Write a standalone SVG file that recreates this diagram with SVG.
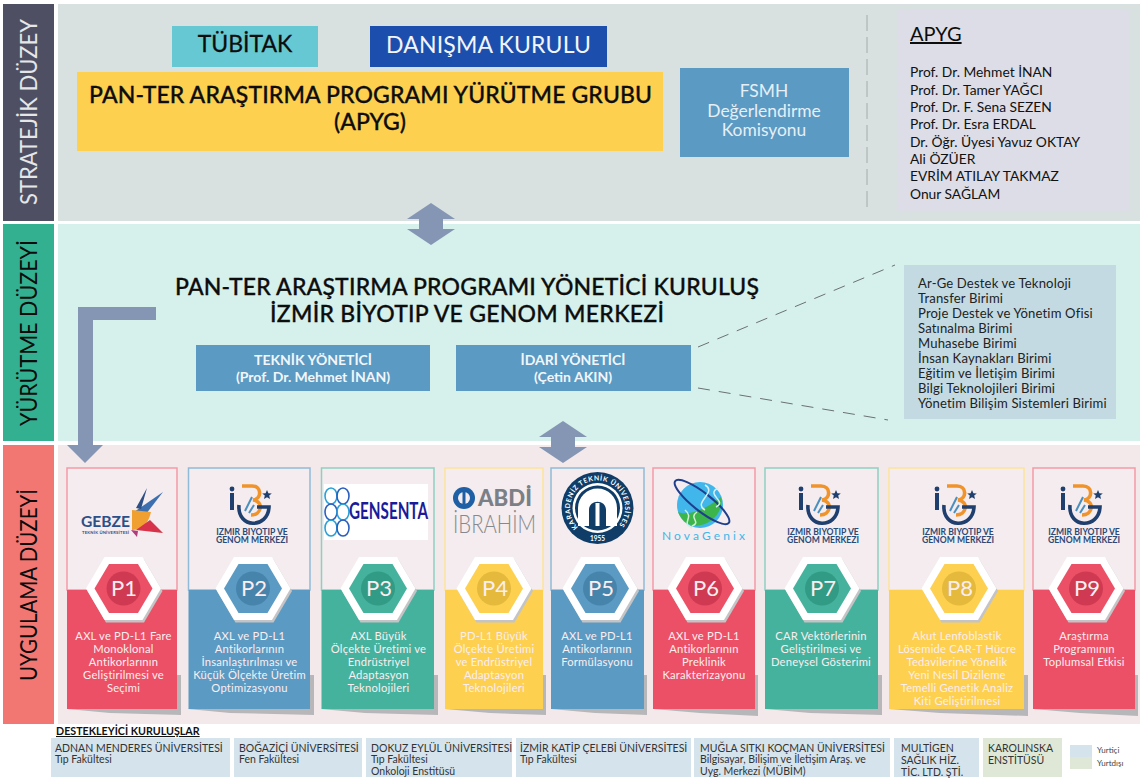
<svg xmlns="http://www.w3.org/2000/svg" width="1144" height="781" viewBox="0 0 1144 781">
<style>
text{font-family:Lato,"Liberation Sans",sans-serif}
.mid{text-anchor:middle}
.ttl{font-size:23px;font-weight:500;fill:#0d0d0d;stroke:#0d0d0d;stroke-width:.3px}
.lvl{font-size:24px;text-anchor:middle}
.lbl{font-size:11.2px;fill:#fbeef0;text-anchor:middle;letter-spacing:.22px}
.pn{font-size:22px;fill:#fbeef0;text-anchor:middle}
.mgr{font-size:14px;font-weight:700;fill:#f2f6fa;text-anchor:middle}
.nm{font-size:13.8px;fill:#111}
.un{font-size:13.100px;fill:#222;letter-spacing:.15px}
.sup{font-size:10.5px;fill:#333}
.red{fill:#ec5066}.blu{fill:#5b9ac3}.grn{fill:#45b29d}.yel{fill:#fdd050}
.redd{fill:#cf3a52}.blud{fill:#4684ac}.grnd{fill:#329b85}.yeld{fill:#e4b93c}
.fr{fill:#f4ecee;stroke-width:1.5}
.arrow{fill:#8496b4}
.dash{stroke:#6a7272;stroke-width:1;fill:none;stroke-dasharray:12 9}
.shd{fill:#b7b7b9}
.lg{font-size:8.6px;font-weight:700;fill:#2a4a78;text-anchor:middle}
</style>
<defs>
<polygon id="hexO" points="-37.5,0 -19,-31.5 19,-31.5 37.5,0 19,31.5 -19,31.5"/>
<polygon id="hexI" points="-29,0 -14.5,-24.5 14.5,-24.5 29,0 14.5,24.5 -14.5,24.5"/>
<g id="hex">
<use href="#hexO" x="1.5" y="2.5" fill="#c4c4c6"/>
<use href="#hexO" fill="#fff"/>
</g>
<g id="ibg">
<circle cx="-20" cy="4" r="2.4" fill="#1f3f6e"/>
<rect x="-22" y="8" width="4" height="17" fill="#1f3f6e"/>
<path d="M-10 1H0C10 1 10 14 1 15C12 16 10 30 -1 30" fill="none" stroke="#f0932b" stroke-width="3.6"/>
<path d="M-13 20C-15 44 16 44 17 22H5" fill="none" stroke="#1f3f6e" stroke-width="3.6"/>
<path d="M-7 26L0 12M-3 28L2 20" stroke="#4b8fbf" stroke-width="2" fill="none"/>
<polygon points="15,5 16.4,8.200 19.800,8.400 17.200,10.600 18,14 15,12.200 12,14 12.800,10.600 10.200,8.400 13.600,8.200" fill="#1f3f6e"/>
</g>
<path id="ktuArc" d="M-21 17.700A27.500 27.500 0 1 1 21 17.700" fill="none"/>
</defs>

<g id="bands">
<rect x="58" y="4" width="1082" height="217" fill="#d8e1e0"/>
<rect x="58" y="224" width="1082" height="217" fill="#d6f0ec"/>
<rect x="58" y="445" width="1082" height="279" fill="#f4e9ea"/>
</g>
<g id="level-stratejik"><rect x="3" y="4" width="51" height="217" fill="#4f4f63"/><text class="lvl" x="37" y="112" transform="rotate(-90 37 112)" fill="#e4e6e8" textLength="186" lengthAdjust="spacingAndGlyphs">STRATEJİK DÜZEY</text></g>
<g id="level-yurutme"><rect x="3" y="224" width="51" height="217" fill="#33b08f"/><text class="lvl" x="37" y="333" transform="rotate(-90 37 333)" fill="#0c0c0c" textLength="186" lengthAdjust="spacingAndGlyphs">YÜRÜTME DÜZEYİ</text></g>
<g id="level-uygulama"><rect x="3" y="445" width="51" height="279" fill="#f27772"/><text class="lvl" x="37" y="585" transform="rotate(-90 37 585)" fill="#0c0c0c" textLength="192" lengthAdjust="spacingAndGlyphs">UYGULAMA DÜZEYİ</text></g>

<g id="tubitak"><rect x="172" y="26" width="146" height="41" fill="#66c8d2"/><text class="mid" x="245" y="52" font-size="23" fill="#0d0d0d" stroke="#0d0d0d" stroke-width=".3">TÜBİTAK</text></g>
<g id="danisma"><rect x="370" y="26" width="237" height="41" fill="#1c4fad"/><text x="386" y="53" font-size="23" fill="#f2f5fb" textLength="205">DANIŞMA KURULU</text></g>
<g id="apyg-grup"><rect x="77" y="72" width="586" height="79" fill="#fdd050"/>
<text class="ttl" x="89" y="103" textLength="563">PAN-TER ARAŞTIRMA PROGRAMI YÜRÜTME GRUBU</text>
<text class="ttl mid" x="370" y="130">(APYG)</text></g>
<g id="fsmh"><rect x="680" y="68" width="169" height="89" fill="#5b9ac3"/>
<text class="mid" font-size="17.4" fill="#e6eff6"><tspan x="764" y="97">FSMH</tspan><tspan x="764" y="117">Değerlendirme</tspan><tspan x="764" y="136">Komisyonu</tspan></text></g>
<g id="apyg-liste"><rect x="897" y="10" width="233" height="202" rx="3" fill="#dcdde6"/>
<text x="910" y="41" font-size="20" fill="#0d0d0d" text-decoration="underline">APYG</text>
<text class="nm"><tspan x="910" y="77">Prof. Dr. Mehmet İNAN</tspan><tspan x="910" y="94.5">Prof. Dr. Tamer YAĞCI</tspan><tspan x="910" y="112">Prof. Dr. F. Sena SEZEN</tspan><tspan x="910" y="129">Prof. Dr. Esra ERDAL</tspan><tspan x="910" y="146.5">Dr. Öğr. Üyesi Yavuz OKTAY</tspan><tspan x="910" y="164">Ali ÖZÜER</tspan><tspan x="910" y="181">EVRİM ATILAY TAKMAZ</tspan><tspan x="910" y="199">Onur SAĞLAM</tspan></text></g>

<g id="yonetici-kurulus"><text class="ttl" x="175" y="295" textLength="584">PAN-TER ARAŞTIRMA PROGRAMI YÖNETİCİ KURULUŞ</text>
<text class="ttl" x="270" y="322" textLength="394">İZMİR BİYOTIP VE GENOM MERKEZİ</text></g>
<g id="teknik"><rect x="196" y="345" width="234" height="46" fill="#5b9ac3"/><text class="mgr"><tspan x="313" y="365">TEKNİK YÖNETİCİ</tspan><tspan x="313" y="382">(Prof. Dr. Mehmet İNAN)</tspan></text></g>
<g id="idari"><rect x="456" y="345" width="235" height="46" fill="#5b9ac3"/><text class="mgr"><tspan x="573" y="365">İDARİ YÖNETİCİ</tspan><tspan x="573" y="382">(Çetin AKIN)</tspan></text></g>
<g id="birimler"><rect x="904" y="265" width="212" height="154" fill="#c3dae2"/>
<text class="un"><tspan x="918" y="288">Ar-Ge Destek ve Teknoloji</tspan><tspan x="918" y="303">Transfer Birimi</tspan><tspan x="918" y="318">Proje Destek ve Yönetim Ofisi</tspan><tspan x="918" y="333">Satınalma Birimi</tspan><tspan x="918" y="348">Muhasebe Birimi</tspan><tspan x="918" y="363">İnsan Kaynakları Birimi</tspan><tspan x="918" y="378">Eğitim ve İletişim Birimi</tspan><tspan x="918" y="393">Bilgi Teknolojileri Birimi</tspan><tspan x="918" y="408">Yönetim Bilişim Sistemleri Birimi</tspan></text></g>

<g id="card-p1">
<polygon class="shd" points="177,675 181,675 181,715 110,713 67,709"/>
<rect class="fr" x="67" y="468" width="110" height="122" stroke="#f59aa6"/><rect class="red" x="67" y="590" width="110" height="119"/>
<g id="logo-gebze">
<polygon points="134,512 163,492 146,514" fill="#3c6fb0"/><polygon points="136,508 147,488 141,509" fill="#2b4f86"/>
<path d="M132 510L151 512C148 526 140 530 132 530Z" fill="#f0a030"/>
<polygon points="136,530 150,520 163,533" fill="#d8324a"/>
<polygon points="131,530 138,531 137,537" fill="#b13a7a"/>
<text x="81" y="527" font-size="15.5" font-weight="700" fill="#2b4f86" textLength="49" lengthAdjust="spacingAndGlyphs">GEBZE</text>
<text x="82" y="534" font-size="4.2" font-weight="700" fill="#2b4f86" textLength="47">TEKNİK ÜNİVERSİTESİ</text></g>
<use href="#hex" x="123.5" y="588.5"/><use href="#hexI" x="123.5" y="588.5" class="red"/><circle class="redd" cx="123.5" cy="588.5" r="17"/><text class="pn" x="124" y="596">P1</text>
<text class="lbl"><tspan x="123.5" y="640">AXL ve PD-L1 Fare</tspan><tspan x="123.5" y="653">Monoklonal</tspan><tspan x="123.5" y="666">Antikorlarının</tspan><tspan x="123.5" y="679">Geliştirilmesi ve</tspan><tspan x="123.5" y="692">Seçimi</tspan></text></g>

<g id="card-p2">
<polygon class="shd" points="310,675 314,675 314,715 230,713 188,709"/>
<rect class="fr" x="188.500" y="468" width="121.500" height="122" stroke="#8fbbd8"/><rect class="blu" x="188.500" y="590" width="121.500" height="119"/>
<use href="#ibg" x="252" y="485"/>
<text class="lg"><tspan x="252" y="535">IZMIR BIYOTIP VE</tspan><tspan x="252" y="543">GENOM MERKEZI</tspan></text>
<use href="#hex" x="253" y="588.5"/><use href="#hexI" x="253" y="588.5" class="blu"/><circle class="blud" cx="253" cy="588.5" r="17"/><text class="pn" x="254" y="596">P2</text>
<text class="lbl"><tspan x="249.500" y="640">AXL ve PD-L1</tspan><tspan x="249.500" y="653">Antikorlarının</tspan><tspan x="249.500" y="666">İnsanlaştırılması ve</tspan><tspan x="249.500" y="679">Küçük Ölçekte Üretim</tspan><tspan x="249.500" y="692">Optimizasyonu</tspan></text></g>

<g id="card-p3">
<polygon class="shd" points="434,675 438,675 438,715 365,713 321,709"/>
<rect class="fr" x="321.500" y="468" width="112.500" height="122" stroke="#8dd0c2"/><rect class="grn" x="321.500" y="590" width="112.500" height="119"/>
<g id="logo-gensenta"><rect x="324" y="484" width="104" height="56" fill="#fff"/>
<g fill="none" stroke-width="1.600"><ellipse cx="331" cy="496" rx="6" ry="8" stroke="#2aa0d8"/><ellipse cx="343" cy="496" rx="6" ry="8" stroke="#2a5fc0"/><ellipse cx="331" cy="512" rx="6" ry="8" stroke="#2a5fc0"/><ellipse cx="343" cy="512" rx="6" ry="8" stroke="#2aa0d8"/><ellipse cx="331" cy="528" rx="6" ry="8" stroke="#2aa0d8"/><ellipse cx="343" cy="528" rx="6" ry="8" stroke="#2a5fc0"/></g>
<text x="349" y="519" font-size="23" font-weight="700" fill="#1b1b9a" textLength="79" lengthAdjust="spacingAndGlyphs">GENSENTA</text></g>
<use href="#hex" x="378" y="588.5"/><use href="#hexI" x="378" y="588.5" class="grn"/><circle class="grnd" cx="378" cy="588.5" r="17"/><text class="pn" x="379" y="596">P3</text>
<text class="lbl"><tspan x="378.500" y="640">AXL Büyük</tspan><tspan x="378.500" y="653">Ölçekte Üretimi ve</tspan><tspan x="378.500" y="666">Endrüstriyel</tspan><tspan x="378.500" y="679">Adaptasyon</tspan><tspan x="378.500" y="692">Teknolojileri</tspan></text></g>

<g id="card-p4">
<polygon class="shd" points="543,675 546,675 546,715 490,713 445,709"/>
<rect class="fr" x="445" y="468" width="98" height="122" stroke="#fde49a"/><rect class="yel" x="445" y="590" width="98" height="119"/>
<g id="logo-abdi"><circle cx="464" cy="498" r="11" fill="#1f5fa5"/><circle cx="464" cy="498" r="6" fill="#f4ecee"/><rect x="462.500" y="491" width="3" height="14" fill="#1f5fa5"/>
<text x="478" y="506" font-size="22" font-weight="900" fill="#7b7f86" textLength="54" lengthAdjust="spacingAndGlyphs">ABDİ</text>
<text x="453" y="533" font-size="25" font-weight="300" fill="#85888d" textLength="83" lengthAdjust="spacingAndGlyphs">İBRAHİM</text></g>
<use href="#hex" x="494" y="588.5"/><use href="#hexI" x="494" y="588.5" class="yel"/><circle class="yeld" cx="494" cy="588.5" r="17"/><text class="pn" x="495" y="596">P4</text>
<text class="lbl"><tspan x="494" y="640">PD-L1 Büyük</tspan><tspan x="494" y="653">Ölçekte Üretimi</tspan><tspan x="494" y="666">ve Endrüstriyel</tspan><tspan x="494" y="679">Adaptasyon</tspan><tspan x="494" y="692">Teknolojileri</tspan></text></g>

<g id="card-p5">
<polygon class="shd" points="644,675 647,675 647,715 595,713 551,709"/>
<rect class="fr" x="551" y="468" width="93" height="122" stroke="#8fbbd8"/><rect class="blu" x="551" y="590" width="93" height="119"/>
<g id="logo-ktu" transform="translate(597.500 508)"><circle r="36" fill="#0f3d68"/><circle r="25" fill="#fff"/><circle r="22.500" fill="#0f3d68"/>
<path d="M-19.500 18V0A19.500 19.500 0 0 1 19.500 0V18H8.500V2C8.500-9-8.500-9-8.500 2V18Z" fill="#fff"/><rect x="-2" y="-5" width="4" height="23" fill="#fff"/>
<text font-size="6.800" font-weight="700" fill="#fff"><textPath href="#ktuArc" startOffset="50%" text-anchor="middle" letter-spacing=".6">KARADENİZ TEKNİK ÜNİVERSİTESİ</textPath></text>
<text class="mid" x="0" y="33" font-size="6.500" font-weight="700" fill="#fff">1955</text></g>
<use href="#hex" x="600" y="588.5"/><use href="#hexI" x="600" y="588.5" class="blu"/><circle class="blud" cx="600" cy="588.5" r="17"/><text class="pn" x="601" y="596">P5</text>
<text class="lbl"><tspan x="597" y="640">AXL ve PD-L1</tspan><tspan x="597" y="653">Antikorlarının</tspan><tspan x="597" y="666">Formülasyonu</tspan></text></g>

<g id="card-p6">
<polygon class="shd" points="755,675 758,675 758,716 700,713 653,709"/>
<rect class="fr" x="653" y="468" width="102" height="122" stroke="#f59aa6"/><rect class="red" x="653" y="590" width="102" height="119"/>
<g id="logo-nova"><circle cx="700" cy="505" r="23" fill="#41b6ea"/><path d="M678 512C688 516 705 510 721 497C726 520 690 540 678 512Z" fill="#3cb54a"/>
<ellipse cx="702" cy="502" rx="34" ry="9" transform="rotate(38 702 502)" fill="none" stroke="#1f3f8e" stroke-width="2"/>
<path d="M705 485C718 492 692 503 705 510M718 488C705 495 728 501 716 507" stroke="#d8eef6" stroke-width="1.500" fill="none"/>
<path d="M685 510C695 518 680 523 692 528M697 512C688 518 702 522 692 526" stroke="#d6f0d8" stroke-width="1.500" fill="none"/>
<text x="662" y="540" font-size="12" fill="#3fb6ea" textLength="83" lengthAdjust="spacing">NovaGenix</text></g>
<use href="#hex" x="705" y="588.5"/><use href="#hexI" x="705" y="588.5" class="red"/><circle class="redd" cx="705" cy="588.5" r="17"/><text class="pn" x="706" y="596">P6</text>
<text class="lbl"><tspan x="704" y="640">AXL ve PD-L1</tspan><tspan x="704" y="653">Antikorlarının</tspan><tspan x="704" y="666">Preklinik</tspan><tspan x="704" y="679">Karakterizayonu</tspan></text></g>

<g id="card-p7">
<polygon class="shd" points="878,675 882,675 882,715 810,713 765,709"/>
<rect class="fr" x="765" y="468" width="113" height="122" stroke="#8dd0c2"/><rect class="grn" x="765" y="590" width="113" height="119"/>
<use href="#ibg" x="821" y="485"/>
<text class="lg"><tspan x="823" y="535">IZMIR BIYOTIP VE</tspan><tspan x="823" y="543">GENOM MERKEZI</tspan></text>
<use href="#hex" x="822" y="588.5"/><use href="#hexI" x="822" y="588.5" class="grn"/><circle class="grnd" cx="822" cy="588.5" r="17"/><text class="pn" x="823" y="596">P7</text>
<text class="lbl"><tspan x="821" y="640">CAR Vektörlerinin</tspan><tspan x="821" y="653">Geliştirilmesi ve</tspan><tspan x="821" y="666">Deneysel Gösterimi</tspan></text></g>

<g id="card-p8">
<polygon class="shd" points="1024,675 1028,675 1028,716 940,713 889,709"/>
<rect class="fr" x="889" y="468" width="135" height="122" stroke="#fde49a"/><rect class="yel" x="889" y="590" width="135" height="119"/>
<use href="#ibg" x="957" y="485"/>
<text class="lg"><tspan x="958" y="535">IZMIR BIYOTIP VE</tspan><tspan x="958" y="543">GENOM MERKEZI</tspan></text>
<use href="#hex" x="959" y="588.5"/><use href="#hexI" x="959" y="588.5" class="yel"/><circle class="yeld" cx="959" cy="588.5" r="17"/><text class="pn" x="960" y="596">P8</text>
<text class="lbl"><tspan x="957" y="640">Akut Lenfoblastik</tspan><tspan x="957" y="653">Lösemide CAR-T Hücre</tspan><tspan x="957" y="666">Tedavilerine Yönelik</tspan><tspan x="957" y="679">Yeni Nesil Dizileme</tspan><tspan x="957" y="692">Temelli Genetik Analiz</tspan><tspan x="957" y="705">Kiti Geliştirilmesi</tspan></text></g>

<g id="card-p9">
<polygon class="shd" points="1135,675 1138,675 1138,716 1080,713 1033,709"/>
<rect class="fr" x="1033" y="468" width="102" height="122" stroke="#f59aa6"/><rect class="red" x="1033" y="590" width="102" height="119"/>
<use href="#ibg" x="1083" y="485"/>
<text class="lg"><tspan x="1084" y="535">IZMIR BIYOTIP VE</tspan><tspan x="1084" y="543">GENOM MERKEZI</tspan></text>
<use href="#hex" x="1086" y="588.5"/><use href="#hexI" x="1086" y="588.5" class="red"/><circle class="redd" cx="1086" cy="588.5" r="17"/><text class="pn" x="1087" y="596">P9</text>
<text class="lbl"><tspan x="1084" y="640">Araştırma</tspan><tspan x="1084" y="653">Programının</tspan><tspan x="1084" y="666">Toplumsal Etkisi</tspan></text></g>

<g id="connectors">
<polygon class="arrow" points="431,203 455,219 443,219 443,229 455,229 431,245 407,229 419,229 419,219 407,219"/>
<polygon class="arrow" points="563,421 587,437 575,437 575,447 587,447 563,463 539,447 551,447 551,437 539,437"/>
<polygon class="arrow" points="156,307 78,307 78,445 67,445 85,463 103,445 93,445 93,320 156,320"/>
<path class="dash" d="M698 347L895 265"/>
<path class="dash" d="M698 388L888 420"/>
<path d="M867 15V212" stroke="#9aa0a0" stroke-width=".8" stroke-dasharray="16 6" fill="none"/>
</g>

<g id="destekleyici">
<text x="56" y="735" font-size="10.700" font-weight="700" fill="#111" text-decoration="underline">DESTEKLEYİCİ KURULUŞLAR</text>
<g fill="#d5e3ec"><rect x="51" y="738" width="179" height="39"/><rect x="234" y="738" width="128" height="39"/><rect x="366" y="738" width="146" height="39"/><rect x="516" y="738" width="175" height="39"/><rect x="694" y="738" width="196" height="39"/><rect x="894" y="738" width="85" height="39"/></g>
<rect x="983" y="738" width="79" height="39" fill="#dfe8d6"/>
<text class="sup"><tspan x="55" y="752">ADNAN MENDERES ÜNİVERSİTESİ</tspan><tspan x="55" y="763">Tıp Fakültesi</tspan></text>
<text class="sup"><tspan x="239" y="752">BOĞAZİÇİ ÜNİVERSİTESİ</tspan><tspan x="239" y="763">Fen Fakültesi</tspan></text>
<text class="sup"><tspan x="371" y="752">DOKUZ EYLÜL ÜNİVERSİTESİ</tspan><tspan x="371" y="763">Tıp Fakültesi</tspan><tspan x="371" y="775">Onkoloji Enstitüsü</tspan></text>
<text class="sup"><tspan x="520" y="752">İZMİR KATİP ÇELEBİ ÜNİVERSİTESİ</tspan><tspan x="520" y="763">Tıp Fakültesi</tspan></text>
<text class="sup"><tspan x="700" y="752">MUĞLA SITKI KOÇMAN ÜNİVERSİTESİ</tspan><tspan x="700" y="763">Bilgisayar, Bilişim ve İletişim Araş. ve</tspan><tspan x="700" y="775">Uyg. Merkezi (MÜBİM)</tspan></text>
<text class="sup"><tspan x="901" y="752">MULTİGEN</tspan><tspan x="901" y="764">SAĞLIK HİZ.</tspan><tspan x="901" y="776">TİC. LTD. ŞTİ.</tspan></text>
<text class="sup"><tspan x="988" y="752">KAROLINSKA</tspan><tspan x="988" y="764">ENSTİTÜSÜ</tspan></text>
</g>
<g id="legend"><rect x="1070" y="745" width="22" height="12" fill="#d5e3ec"/><rect x="1070" y="757" width="22" height="12" fill="#dfe8d6"/>
<text font-size="8" fill="#444"><tspan x="1097" y="753">Yurtiçi</tspan><tspan x="1097" y="766">Yurtdışı</tspan></text></g>
</svg>
